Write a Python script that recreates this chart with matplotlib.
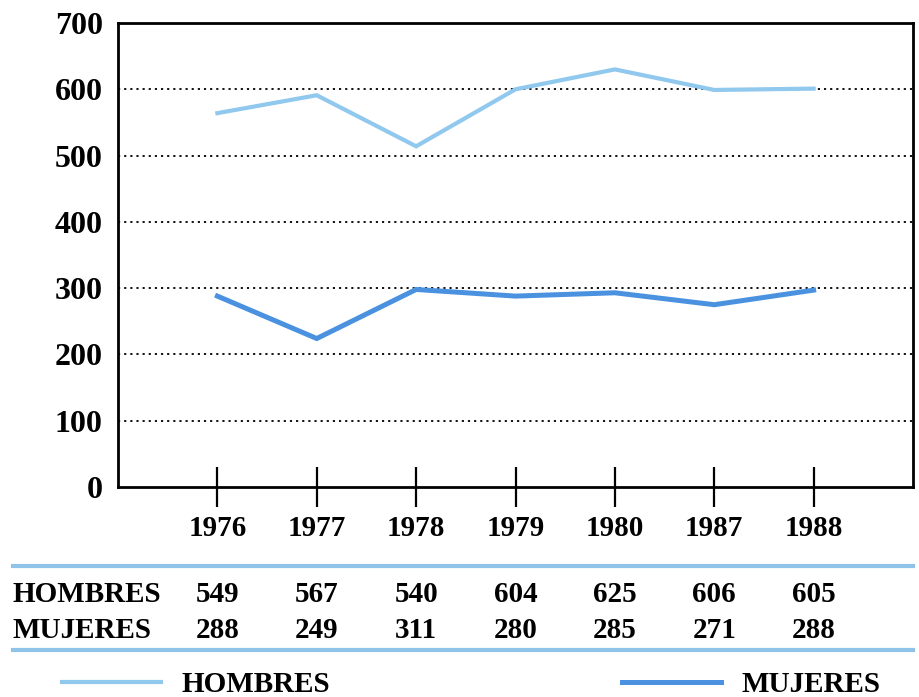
import matplotlib.pyplot as plt
from matplotlib.lines import Line2D
from matplotlib import transforms

# datos
years = ['1976', '1977', '1978', '1979', '1980', '1987', '1988']
hombres_line = [564, 591, 514, 600, 630, 599, 601]
mujeres_line = [288, 224, 298, 288, 293, 275, 297]
hombres_tabla = [549, 567, 540, 604, 625, 606, 605]
mujeres_tabla = [288, 249, 311, 280, 285, 271, 288]
yticks = [0, 100, 200, 300, 400, 500, 600, 700]

c_hom = '#90c8ee'
c_muj = '#4a92e0'
c_rule = '#8fc3ea'

plt.rcParams['font.family'] = ['Liberation Serif', 'DejaVu Serif']
plt.rcParams['font.weight'] = 'bold'

fig = plt.figure(figsize=(9.2, 6.97), dpi=100)
W, H = 920, 697
ax = fig.add_axes([118 / W, (H - 487) / H, 795 / W, 464 / H])

x = list(range(len(years)))
h_hom, = ax.plot(x, hombres_line, color=c_hom, lw=3.0, solid_joinstyle='miter', label='HOMBRES')
h_muj, = ax.plot(x, mujeres_line, color=c_muj, lw=3.6, solid_joinstyle='miter', label='MUJERES')

ax.set_xlim(-1, 7)
ax.set_ylim(0, 700)
ax.set_yticks(yticks)
ax.set_yticklabels([str(v) for v in yticks], fontsize=23, fontweight='bold')
ax.tick_params(axis='y', length=0, pad=11)
ax.set_xticks(x)
ax.set_xticklabels(years, fontsize=21, fontweight='bold')
ax.tick_params(axis='x', direction='inout', length=29, width=1.6, pad=6)

for v in yticks[1:-1]:
    ax.axhline(v, color='black', lw=1.3, ls=(0, (1.2, 2.2)), zorder=0)

for s in ax.spines.values():
    s.set_linewidth(2)

# tabla debajo
tr = transforms.blended_transform_factory(ax.transData, fig.transFigure)


def fy(py):
    return 1 - py / H


for py in (566, 650):
    fig.add_artist(Line2D([13 / W, 913 / W], [fy(py), fy(py)], color=c_rule, lw=3,
                          transform=fig.transFigure))

fs = 21
fig.text(13 / W, fy(594), 'HOMBRES', fontsize=fs, fontweight='bold', va='center', ha='left')
fig.text(13 / W, fy(631), 'MUJERES', fontsize=fs, fontweight='bold', va='center', ha='left')
for i in range(len(years)):
    fig.text(x[i], fy(594), str(hombres_tabla[i]), transform=tr, fontsize=fs,
             fontweight='bold', va='center', ha='center')
    fig.text(x[i], fy(631), str(mujeres_tabla[i]), transform=tr, fontsize=fs,
             fontweight='bold', va='center', ha='center')

# leyenda
leg_kw = dict(frameon=False, handlelength=3.4, handletextpad=0.7,
              borderpad=0, borderaxespad=0, prop={'weight': 'bold', 'size': 21})
fig.legend(handles=[h_hom], loc='center left', bbox_to_anchor=(62 / W, fy(685)), **leg_kw)
fig.legend(handles=[h_muj], loc='center left', bbox_to_anchor=(622 / W, fy(685)), **leg_kw)

fig.savefig('out.png', dpi=100)
